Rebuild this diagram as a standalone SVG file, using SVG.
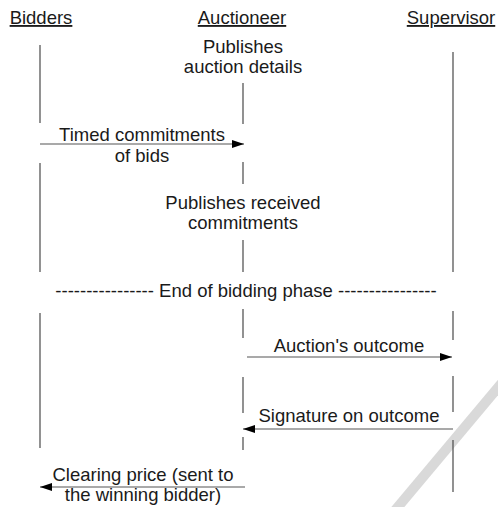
<svg xmlns="http://www.w3.org/2000/svg" width="498" height="507" viewBox="0 0 498 507">
  <style>
    text { font-family: "Liberation Sans", Arial, sans-serif; font-size: 18.5px; fill: #1a1a1a; text-anchor: middle; }
    .head { text-decoration: underline; }
    .life { stroke: #4a4a4a; stroke-width: 1.2; fill: none; }
    .msg { stroke: #555; stroke-width: 1.2; fill: none; }
  </style>
  <defs>
    <marker id="arrow" viewBox="0 0 12 8" refX="12" refY="4" markerWidth="12" markerHeight="8" markerUnits="userSpaceOnUse" orient="auto">
      <path d="M0,0 L12,4 L0,8 Z" fill="#000"/>
    </marker>
  </defs>
  <rect width="498" height="507" fill="#fff"/>

  <!-- light diagonal stroke in the lower right corner -->
  <line x1="506" y1="378" x2="392" y2="514" stroke="#d9d9d9" stroke-width="10"/>

  <!-- participants -->
  <g id="bidders">
    <text class="head" x="41" y="24">Bidders</text>
    <path class="life" d="M40,45 V123 M40,163 V272 M40,313 V448"/>
  </g>
  <g id="auctioneer">
    <text class="head" x="242" y="24">Auctioneer</text>
    <path class="life" d="M243,83 V124 M243,162 V184 M243,240 V272 M243,309 V338 M243,377 V413 M243,437 V450"/>
  </g>
  <g id="supervisor">
    <text class="head" x="451" y="24">Supervisor</text>
    <path class="life" d="M453,52 V272 M453,311 V340 M453,376 V412 M453,440 V492"/>
  </g>

  <!-- notes -->
  <g id="publish-details">
    <text x="243" y="53">Publishes</text>
    <text x="243" y="73">auction details</text>
  </g>
  <g id="publish-commitments">
    <text x="243" y="209">Publishes received</text>
    <text x="243" y="229">commitments</text>
  </g>
  <g id="phase-end">
    <text x="246" y="297">---------------- End of bidding phase ----------------</text>
  </g>

  <!-- messages -->
  <g id="connectors">
    <line class="msg" x1="40" y1="144" x2="244" y2="144" marker-end="url(#arrow)"/>
    <line class="msg" x1="247" y1="357" x2="452" y2="357" marker-end="url(#arrow)"/>
    <line class="msg" x1="453" y1="429" x2="243" y2="429" marker-end="url(#arrow)"/>
    <line class="msg" x1="245" y1="487" x2="40" y2="487" marker-end="url(#arrow)"/>
  </g>
  <g id="labels">
    <text x="142" y="141">Timed commitments</text>
    <text x="142" y="162">of bids</text>
    <text x="349" y="352">Auction's outcome</text>
    <text x="349" y="422">Signature on outcome</text>
    <text x="143" y="481">Clearing price (sent to</text>
    <text x="143" y="501">the winning bidder)</text>
  </g>
</svg>
